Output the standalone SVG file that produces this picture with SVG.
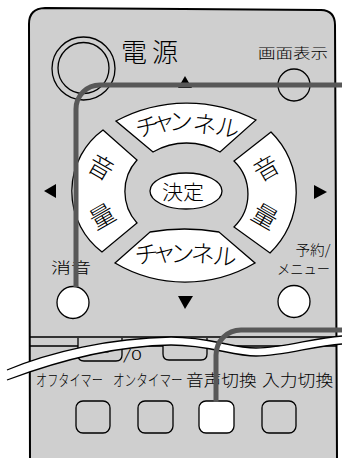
<svg xmlns="http://www.w3.org/2000/svg" width="342" height="458" viewBox="0 0 342 458">
<style>
.ol{fill:none;stroke:#000;stroke-width:1.3}
.wh{fill:#fff;stroke:#000;stroke-width:1.3}
.gy{fill:#cfcfcf;stroke:#000;stroke-width:1.3}
.t{font-family:'Noto Sans CJK JP','Noto Sans',sans-serif;font-weight:300;fill:#000}
.lead{fill:none;stroke:#585858;stroke-width:5}
.tri{fill:#000}
</style>
<rect width="342" height="458" fill="#fff"/>
<g id="body">
<path d="M30,458 L29,24 Q29,8.5 45,8 L321,10 Q335,10.5 335,25 L337,458" fill="#cfcfcf" stroke="#000" stroke-width="2"/>
<path d="M30,337 H336 M30,346 H336" class="ol"/>
</g>
<g id="power">
<circle cx="83.5" cy="68.5" r="31.5" class="ol"/>
<circle cx="83.5" cy="68" r="25.5" class="ol"/>
<text class="t" x="121" y="61.5" font-size="26" letter-spacing="5">電源</text>
</g>
<g id="display">
<text class="t" x="258" y="58" font-size="13.5" textLength="70" lengthAdjust="spacingAndGlyphs">画面表示</text>
<circle cx="294" cy="85" r="16" class="ol"/>
</g>
<g id="arrows">
<path class="tri" d="M185,76 L178,88 L192,88 Z"/>
<path class="tri" d="M44,191 L56,184 L56,198 Z"/>
<path class="tri" d="M327,192 L314,185 L314,199 Z"/>
<path class="tri" d="M185,309 L178,296 L193,296 Z"/>
</g>
<g id="ch-up">
<path class="wh" d="M116,121 A149,149 0 0 1 256,120 L220,152 A67,67 0 0 0 153,152 Z"/>
<g class="t" font-size="24" text-anchor="middle">
<text transform="translate(147,126.5) rotate(-12)" y="9">チ</text>
<text transform="translate(163,121) rotate(-6)" y="9">ャ</text>
<text transform="translate(181,121) rotate(0)" y="9">ン</text>
<text transform="translate(205,124) rotate(6)" y="9">ネ</text>
<text transform="translate(227.5,127.5) rotate(12)" y="9">ル</text>
</g>
</g>
<g id="ch-down">
<path class="wh" d="M115,263 L150,232 A200,200 0 0 1 219,232 L255,263 A138,138 0 0 1 115,263 Z"/>
<g class="t" font-size="24" text-anchor="middle">
<text transform="translate(146.5,254) rotate(-6)" y="9">チ</text>
<text transform="translate(164,252) rotate(-3)" y="9">ャ</text>
<text transform="translate(182.5,253) rotate(0)" y="9">ン</text>
<text transform="translate(203,253.5) rotate(3)" y="9">ネ</text>
<text transform="translate(225,256) rotate(6)" y="9">ル</text>
</g>
</g>
<g id="vol-left">
<path class="wh" d="M103,130 L137,160 A47,47 0 0 0 137,223 L102,252 A76,76 0 0 1 103,130 Z"/>
<g class="t" font-size="25" text-anchor="middle">
<text transform="translate(101,167) rotate(30)" y="9.5">音</text>
<text transform="translate(102,216) rotate(-30)" y="9.5">量</text>
</g>
</g>
<g id="vol-right">
<path class="wh" d="M271,132 L234,161 A46,46 0 0 1 234,227 L270,253 A84,84 0 0 0 271,132 Z"/>
<g class="t" font-size="25" text-anchor="middle">
<text transform="translate(266,168) rotate(-30)" y="9.5">音</text>
<text transform="translate(265,216) rotate(30)" y="9.5">量</text>
</g>
</g>
<g id="enter">
<ellipse cx="186" cy="191" rx="36" ry="18" class="wh"/>
<text class="t" x="162" y="200" font-size="20" textLength="42" lengthAdjust="spacingAndGlyphs">決定</text>
</g>
<g id="mute">
<text class="t" x="51" y="273" font-size="15" textLength="40" lengthAdjust="spacingAndGlyphs">消音</text>
<circle cx="73" cy="302.5" r="16" class="wh"/>
</g>
<g id="menu">
<text class="t" x="295.5" y="254.5" font-size="14" textLength="35" lengthAdjust="spacingAndGlyphs">予約/</text>
<text class="t" x="277" y="273.5" font-size="14" textLength="53" lengthAdjust="spacingAndGlyphs">メニュー</text>
<circle cx="294" cy="301.5" r="16" class="wh"/>
</g>
<g id="hidden-row">
<path class="gy" d="M78,338 L78,355 Q78,361 84,361 L116,361 Q122,361 122,355 L122,338"/>
<circle cx="107" cy="350" r="2.6" fill="#000"/>
<text class="t" x="123" y="360" font-size="14" textLength="19" lengthAdjust="spacingAndGlyphs">/0</text>
<path class="gy" d="M163,338 L163,354 Q163,360 169,360 L201,360 Q207,360 207,354 L207,338"/>
</g>
<g id="break">
<path fill="#fff" d="M7,370 C50,352 110,338 171,337 C210,337 232,348 256,348 C285,348 312,338 342,336 L342,344 C312,346 285,356 256,356 C232,356 210,345 171,345 C110,346 55,362 7,380 Z"/>
<path class="ol" stroke-width="1.5" d="M7,370 C50,352 110,338 171,337 C210,337 232,348 256,348 C285,348 312,338 342,336"/>
<path class="ol" stroke-width="1.5" d="M7,380 C55,362 110,346 171,345 C210,345 232,356 256,356 C285,356 312,346 342,344"/>
</g>
<g id="off-timer">
<text class="t" transform="translate(36,386) scale(0.72,1)" font-size="15.5">オフタイマー</text>
<rect x="76" y="401" width="34" height="32" rx="7" class="gy"/>
</g>
<g id="on-timer">
<text class="t" transform="translate(113,386) scale(0.75,1)" font-size="15.5">オンタイマー</text>
<rect x="138" y="401" width="35" height="32" rx="7" class="gy"/>
</g>
<g id="audio">
<text class="t" transform="translate(186,386) scale(1.14,1)" font-size="15.5">音声切換</text>
<rect x="199" y="401" width="35" height="32" rx="7" class="wh"/>
</g>
<g id="input">
<text class="t" transform="translate(262,386) scale(1.15,1)" font-size="15.5">入力切換</text>
<rect x="262" y="401" width="34" height="32" rx="7" class="gy"/>
</g>
<g id="connectors">
<path class="lead" d="M342,85 H100 A24,24 0 0 0 76,109 V287"/>
<path class="lead" d="M342,330 H241 A25,25 0 0 0 216,355 V402"/>
</g>
</svg>
